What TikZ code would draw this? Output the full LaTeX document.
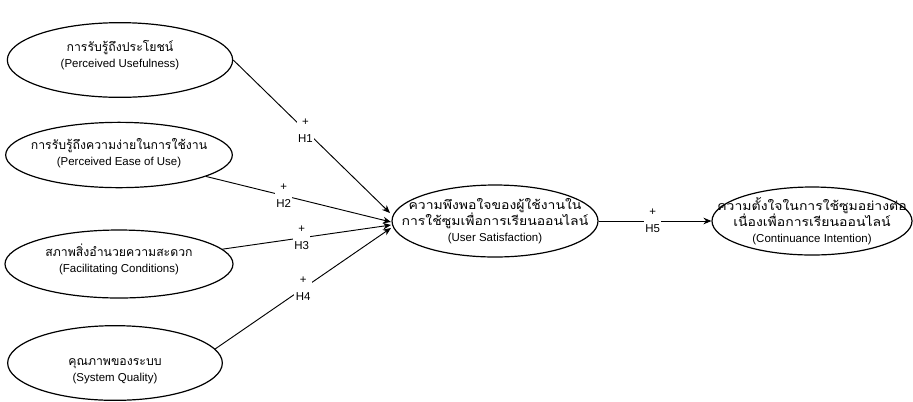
\documentclass[tikz,border=0pt]{standalone}
\usepackage{fontspec}
\setmainfont{Liberation Sans}
\newfontfamily\thaifont[Script=Thai, Scale=1.07]{Loma}
\newfontfamily\thaiwide[Script=Thai, Scale=1.07, FakeStretch=1.14]{Loma}
\usetikzlibrary{arrows.meta, shapes.geometric}

\begin{document}
\begin{tikzpicture}[x=0.75pt, y=-0.75pt,
        var/.style={ellipse, draw, line width=0.9pt, inner sep=0pt},
        lbl/.style={align=center, font=\fontsize{8.6}{12}\selectfont},
        hyp/.style={fill=white, align=center, inner sep=1pt, font=\fontsize{8.6}{12.5}\selectfont},
        link/.style={-{Stealth[length=6pt, width=5pt]}, line width=0.7pt}]
        \useasboundingbox (0,0) rectangle (913,401);

        \node[var, minimum width=169pt, minimum height=56pt, label={[lbl, yshift=4pt]center:{\thaifont การรับรู้ถึงประโยชน์}\\(Perceived Usefulness)}] (pu) at (120,60) {};
        \node[var, minimum width=170pt, minimum height=49pt, label={[lbl, yshift=1.5pt]center:{\thaifont การรับรู้ถึงความง่ายในการใช้งาน}\\(Perceived Ease of Use)}] (peou) at (119,155) {};
        \node[var, minimum width=171pt, minimum height=51pt, label={[lbl, yshift=3.5pt]center:{\thaifont สภาพสิ่งอำนวยความสะดวก}\\(Facilitating Conditions)}] (fc) at (119,264) {};
        \node[var, minimum width=161pt, minimum height=56pt, label={[lbl, yshift=-6pt]center:{\thaifont คุณภาพของระบบ}\\(System Quality)}] (sq) at (115,363) {};

        \node[var, minimum width=154.5pt, minimum height=54pt, label={[lbl]center:{\thaiwide ความพึงพอใจของผู้ใช้งานใน}\\{\thaiwide การใช้ซูมเพื่อการเรียนออนไลน์}\\(User Satisfaction)}] (us) at (495,221) {};
        \node[var, minimum width=150pt, minimum height=51pt, label={[lbl]center:{\thaiwide ความตั้งใจในการใช้ซูมอย่างต่อ}\\{\thaiwide เนื่องเพื่อการเรียนออนไลน์}\\(Continuance Intention)}] (ci) at (812,221) {};

        % arrow ends at the left of the satisfaction node
        \coordinate (in1) at (390,213);
        \coordinate (in2) at (391,222);
        \coordinate (in3) at (391,225);
        \coordinate (in4) at (391,228);

        \draw[link] (pu.east) -- node[hyp, pos=0.46] (h1) {+\\H1} (in1);
        \draw[link] (peou) -- node[hyp, pos=0.42] (h2) {+\\H2} (in2);
        \draw[link] (fc) -- node[hyp, pos=0.47] (h3) {+\\H3} (in3);
        \draw[link] (sq.8) -- node[hyp, pos=0.5] (h4) {+\\H4} (in4);
        \draw[link] (us.east) -- node[hyp, pos=0.48] (h5) {+\\H5} (ci.west);
    \end{tikzpicture}
\end{document}
